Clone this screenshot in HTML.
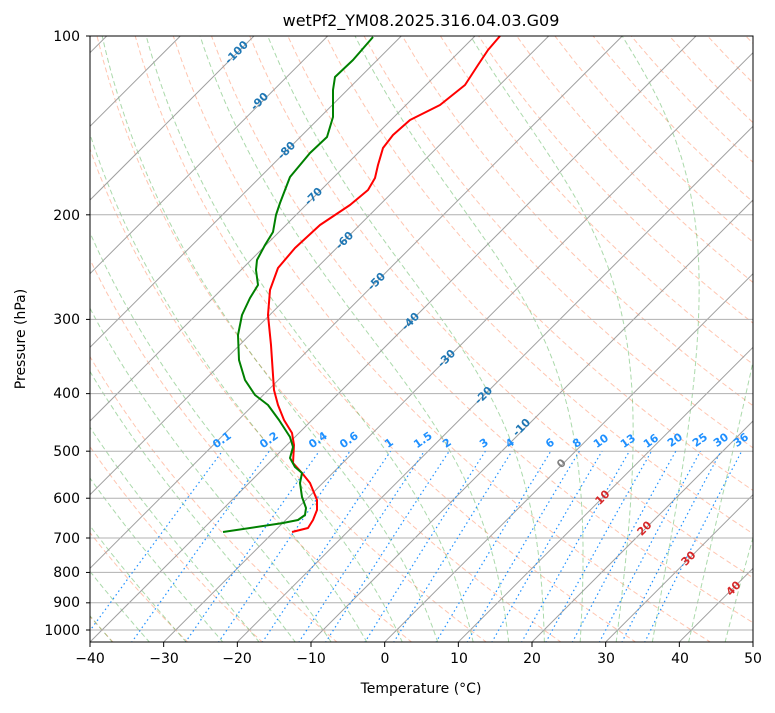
<!DOCTYPE html>
<html><head><meta charset="utf-8"><style>
body{margin:0;background:#fff;}
svg{font-family:"DejaVu Sans","Liberation Sans",sans-serif;}
</style></head><body>
<svg id="s" width="775" height="708" viewBox="0 0 775 708" xmlns="http://www.w3.org/2000/svg">
<defs><clipPath id="c"><rect x="90" y="36" width="663" height="606"/></clipPath></defs>
<rect width="775" height="708" fill="#fff"/>
<g id="plot" clip-path="url(#c)"></g>
<g font-size="11" font-weight="bold" fill="#1f77b4">
<text transform="translate(239,55) rotate(-45)" text-anchor="middle">-100</text>
<text transform="translate(262,104) rotate(-45)" text-anchor="middle">-90</text>
<text transform="translate(289,153) rotate(-45)" text-anchor="middle">-80</text>
<text transform="translate(316,199) rotate(-45)" text-anchor="middle">-70</text>
<text transform="translate(347,243) rotate(-45)" text-anchor="middle">-60</text>
<text transform="translate(379,284) rotate(-45)" text-anchor="middle">-50</text>
<text transform="translate(413,324) rotate(-45)" text-anchor="middle">-40</text>
<text transform="translate(449,361) rotate(-45)" text-anchor="middle">-30</text>
<text transform="translate(486,398) rotate(-45)" text-anchor="middle">-20</text>
<text transform="translate(524,430) rotate(-45)" text-anchor="middle">-10</text>
<text transform="translate(564,466) rotate(-45)" text-anchor="middle" fill="#808080">0</text>
<text transform="translate(605,500) rotate(-45)" text-anchor="middle" fill="#d62728">10</text>
<text transform="translate(647,531) rotate(-45)" text-anchor="middle" fill="#d62728">20</text>
<text transform="translate(691,561) rotate(-45)" text-anchor="middle" fill="#d62728">30</text>
<text transform="translate(736,591) rotate(-45)" text-anchor="middle" fill="#d62728">40</text>
</g>
<g font-size="11" font-weight="bold" fill="#1e90ff" text-anchor="middle">
<text transform="translate(224,443) rotate(-35)">0.1</text>
<text transform="translate(271,443) rotate(-35)">0.2</text>
<text transform="translate(320,443) rotate(-35)">0.4</text>
<text transform="translate(351,443) rotate(-35)">0.6</text>
<text transform="translate(391,446) rotate(-35)">1</text>
<text transform="translate(425,443) rotate(-35)">1.5</text>
<text transform="translate(449,446) rotate(-35)">2</text>
<text transform="translate(486,446) rotate(-35)">3</text>
<text transform="translate(512,446) rotate(-35)">4</text>
<text transform="translate(552,446) rotate(-35)">6</text>
<text transform="translate(579,446) rotate(-35)">8</text>
<text transform="translate(603,444) rotate(-35)">10</text>
<text transform="translate(630,444) rotate(-35)">13</text>
<text transform="translate(653,444) rotate(-35)">16</text>
<text transform="translate(677,443) rotate(-35)">20</text>
<text transform="translate(702,443) rotate(-35)">25</text>
<text transform="translate(723,443) rotate(-35)">30</text>
<text transform="translate(743,443) rotate(-35)">36</text>
</g>
<polyline fill="none" stroke="#ff0000" stroke-width="2" stroke-linejoin="round" points="500,36 488,50 478,65 465,85 440,105 410,120 393,135 383,148 378,165 375,178 368,190 350,205 320,225 295,248 278,268 270,290 268,315 271,345 273,375 274,390 278,405 284,420 292,433 294,445 293,463 302,473 310,483 317,500 317,510 313,520 308,528 292,532"/>
<polyline fill="none" stroke="#008000" stroke-width="2" stroke-linejoin="round" points="373,37 353,60 335,77 333,90 333,117 327,137 310,153 290,177 280,203 276,215 273,232 265,245 257,260 256,270 258,285 250,298 242,315 238,335 239,360 245,380 255,395 268,405 279,420 290,437 293,447 290,458 295,467 302,473 300,483 302,497 306,508 305,515 298,520 283,523 223,532"/>
<rect x="90" y="36" width="663" height="606" fill="none" stroke="#000" stroke-width="1"/>
<g font-size="14" fill="#000">
<text x="421" y="26" text-anchor="middle" font-size="16">wetPf2_YM08.2025.316.04.03.G09</text>
<text x="421" y="693" text-anchor="middle">Temperature (°C)</text>
<text transform="translate(25,339) rotate(-90)" text-anchor="middle">Pressure (hPa)</text>
</g>
<g id="ticks" font-size="14" fill="#000">
<text x="80" y="41" text-anchor="end">100</text>
<text x="80" y="220" text-anchor="end">200</text>
<text x="80" y="324" text-anchor="end">300</text>
<text x="80" y="398" text-anchor="end">400</text>
<text x="80" y="456" text-anchor="end">500</text>
<text x="80" y="503" text-anchor="end">600</text>
<text x="80" y="543" text-anchor="end">700</text>
<text x="80" y="577" text-anchor="end">800</text>
<text x="80" y="607" text-anchor="end">900</text>
<text x="80" y="635" text-anchor="end">1000</text>
<text x="90" y="663" text-anchor="middle">−40</text>
<text x="164" y="663" text-anchor="middle">−30</text>
<text x="237" y="663" text-anchor="middle">−20</text>
<text x="311" y="663" text-anchor="middle">−10</text>
<text x="385" y="663" text-anchor="middle">0</text>
<text x="459" y="663" text-anchor="middle">10</text>
<text x="532" y="663" text-anchor="middle">20</text>
<text x="606" y="663" text-anchor="middle">30</text>
<text x="680" y="663" text-anchor="middle">40</text>
<text x="753" y="663" text-anchor="middle">50</text>
</g>
<g id="tk" stroke="#000" stroke-width="1"></g>
</svg>
<script>
(function(){
var NS="http://www.w3.org/2000/svg";
var g=document.getElementById('plot'), tk=document.getElementById('tk');
function Y(p){return 36+594*Math.log10(p/100);}
function X(T,p){return 90+(T+40)*7.3667+(642-Y(p));}
function add(par,tag,at){var e=document.createElementNS(NS,tag);for(var k in at)e.setAttribute(k,at[k]);par.appendChild(e);return e;}
function path(pts,st){var d='';pts.forEach(function(q,i){d+=(i?'L':'M')+q[0].toFixed(1)+','+q[1].toFixed(1);});add(g,'path',Object.assign({d:d,fill:'none'},st));}
var P=[];for(var p=1050;p>=100;p-=10)P.push(p);
for(var t0=-50;t0<=200;t0+=10){var th=t0+273.15;path(P.map(function(p){return [X(th*Math.pow(p/1000,0.2857)-273.15,p),Y(p)];}),{stroke:'#ff7f50','stroke-opacity':0.45,'stroke-width':1,'stroke-dasharray':'5,3'});}
function es(T){return 6.112*Math.exp(17.67*T/(T+243.5));}
function dTdp(T,p){var Tk=T+273.15,rs=0.622*es(T)/(p-es(T));var Lv=2.501e6,Rd=287.04,Cp=1005.7;
return (Rd*Tk+Lv*rs)/(p*(Cp+Lv*Lv*rs*0.622/(Rd*Tk*Tk)));}
for(var m=-40;m<=50;m+=5){var T=m;var up=[];for(var p=1000;p>=100;p-=5){up.push([X(T,p),Y(p)]);T-=dTdp(T,p)*5;}
T=m;var dn=[];for(var p=1000;p<=1050;p+=5){dn.unshift([X(T,p),Y(p)]);T+=dTdp(T,p)*5;}
path(dn.concat(up),{stroke:'#2ca02c','stroke-opacity':0.4,'stroke-width':1,'stroke-dasharray':'5,3'});}
for(var t=-160;t<=60;t+=10){path([[X(t,1050),Y(1050)],[X(t,100),Y(100)]],{stroke:'#a0a0a0','stroke-width':1});}
[100,200,300,400,500,600,700,800,900,1000].forEach(function(p){path([[90,Y(p)],[753,Y(p)]],{stroke:'#b0b0b0','stroke-width':1});add(tk,'line',{x1:86,x2:90,y1:Y(p),y2:Y(p)});});
for(var t=-40;t<=50;t+=10){var x=90+(t+40)*7.3667;add(tk,'line',{x1:x,x2:x,y1:642,y2:647});}
[0.1,0.2,0.4,0.6,1,1.5,2,3,4,6,8,10,13,16,20,25,30,36].forEach(function(w){var pts=[];for(var p=1050;p>=500;p-=10){var e=(w/1000)*p/(0.622+w/1000);var l=Math.log(e/6.112);var Td=243.5*l/(17.67-l);pts.push([X(Td,p),Y(p)]);}
path(pts,{stroke:'#1e90ff','stroke-width':1.2,'stroke-dasharray':'1.5,3'});});
})();
</script>
</body></html>
